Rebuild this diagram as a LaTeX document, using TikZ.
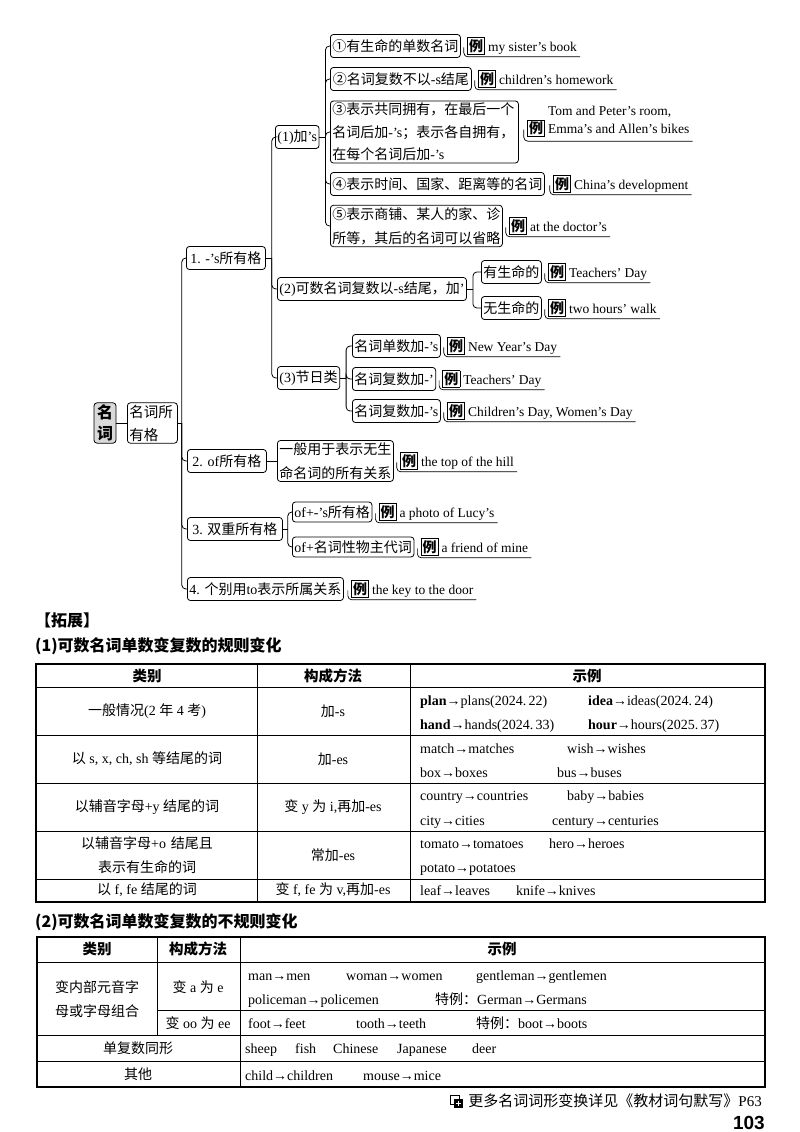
\documentclass[tikz,border=0pt]{standalone}
\usepackage{fontspec}
\setmainfont{Liberation Serif}
\newfontfamily\cjk{Noto Sans CJK SC}
\newfontfamily\pagefont{Liberation Sans}
\usetikzlibrary{positioning}

% Han characters and full-width punctuation switch to \cjk by themselves
\XeTeXinterchartokenstate=1
\newXeTeXintercharclass\hanclass
\newcount\hancnt
\def\sethan#1#2{\hancnt=#1\relax
  \loop\XeTeXcharclass\hancnt=\hanclass
    \ifnum\hancnt<#2\advance\hancnt by 1\repeat}
\sethan{"2460}{"24FF}
\sethan{"3000}{"303F}
\sethan{"4E00}{"9FFF}
\sethan{"FF00}{"FFEF}
\XeTeXcharclass"2018=0 \XeTeXcharclass"2019=0
\XeTeXcharclass"201C=0 \XeTeXcharclass"201D=0
\XeTeXinterchartoks 4095 \hanclass={\cjk}
\XeTeXinterchartoks \hanclass 4095={\rmfamily}
\XeTeXinterchartoks 0 \hanclass={\cjk}
\XeTeXinterchartoks \hanclass 0={\rmfamily}

\newcommand\li{{\fboxsep=1.2pt\fboxrule=0.8pt\fbox{\bfseries\fontsize{14}{16}\selectfont 例}}\hspace{3pt}}

\begin{document}
\begin{tikzpicture}[x=1pt,y=-1pt,
  box/.style={draw, rounded corners=3pt, line width=0.8pt, anchor=west,
    inner xsep=2pt, inner ysep=2pt, minimum height=23pt,
    font=\fontsize{14}{18}\selectfont},
  eg/.style={inner xsep=3pt, inner ysep=2pt, font=\fontsize{13.5}{18}\selectfont},
  link/.style={line width=0.8pt},
  fork/.style={link, rounded corners=4pt},
  uline/.style={line width=0.7pt, rounded corners=4pt},
  title/.style={anchor=west, inner sep=0pt, font=\cjk\fontsize{16}{18}\selectfont\bfseries},
  head/.style={font=\fontsize{14.5}{18}\selectfont\bfseries},
  cell/.style={inner sep=1pt, font=\fontsize{14}{24}\selectfont},
  word/.style={anchor=base west, yshift=-5pt, inner sep=0pt, font=\fontsize{14}{16}\selectfont},
  grid/.style={line width=0.8pt},
  frame/.style={line width=1.4pt}]
\useasboundingbox (0,0) rectangle (800,1132);

% root
\node[box, anchor=center, fill=gray!30, text width=18pt, align=center,
  font=\fontsize{16}{21}\selectfont\bfseries] (rt) at (105,423) {名\\词};
\node[box, text width=46pt, align=left, font=\fontsize{14.5}{23}\selectfont] (n0) at (127,423) {名词所\\有格};

% first level
\node[box, minimum width=79pt] (b1) at (186,258) {1. -’s所有格};
\node[box, minimum width=79pt] (b2) at (187,461) {2. of所有格};
\node[box, minimum width=95pt] (b3) at (187,529) {3. 双重所有格};
\node[box] (b4) at (187,589) {4. 个别用to表示所属关系};

% 1. -'s
\node[box] (c1) at (275,137) {(1)加’s};
\node[box] (c2) at (277,289) {(2)可数名词复数以-s结尾，加’};
\node[box] (c3) at (277,378) {(3)节日类};

\node[box] (d1) at (330,46) {①有生命的单数名词};
\node[box, minimum width=141pt] (d2) at (330,79) {②名词复数不以-s结尾};
\node[box, text width=184pt, align=left, font=\fontsize{14}{22.5}\selectfont] (d3) at (330,132)
  {③表示共同拥有，在最后一个\\名词后加-’s；表示各自拥有，\\在每个名词后加-’s};
\node[box] (d4) at (330,184) {④表示时间、国家、距离等的名词};
\node[box, text width=168pt, align=left, font=\fontsize{14}{24}\selectfont] (d5) at (330,226)
  {⑤表示商铺、某人的家、诊\\所等，其后的名词可以省略};

\node[box] (f1) at (481,272) {有生命的};
\node[box] (f2) at (481,308) {无生命的};

\node[box] (g1) at (352,346) {名词单数加-’s};
\node[box] (g2) at (352,379) {名词复数加-’};
\node[box] (g3) at (352,411) {名词复数加-’s};

% 2. / 3.
\node[box, text width=112pt, align=left, font=\fontsize{14}{24}\selectfont] (h1) at (277,461)
  {一般用于表示无生\\命名词的所有关系};
\node[box, minimum height=20pt] (k1) at (292,512) {of+-’s所有格};
\node[box, minimum height=20pt] (k2) at (292,547) {of+名词性物主代词};

% examples
\node[eg, right=3pt of d1] (e1) {\li my sister’s book};
\node[eg, right=3pt of d2] (e2) {\li children’s homework};
\node[eg, right=5pt of d3, yshift=11pt] (e3)
  {\li\begin{tabular}[b]{@{}l@{}}Tom and Peter’s room,\\Emma’s and Allen’s bikes\end{tabular}};
\node[eg, right=5pt of d4] (e4) {\li China’s development};
\node[eg, right=3pt of d5] (e5) {\li at the doctor’s};
\node[eg, right=3pt of f1] (e6) {\li Teachers’ Day};
\node[eg, right=3pt of f2] (e7) {\li two hours’ walk};
\node[eg, right=3pt of g1] (e8) {\li New Year’s Day};
\node[eg, right=3pt of g2] (e9) {\li Teachers’ Day};
\node[eg, right=3pt of g3] (e10) {\li Children’s Day, Women’s Day};
\node[eg, right=3pt of h1] (e11) {\li the top of the hill};
\node[eg, right=3pt of k1] (e12) {\li a photo of Lucy’s};
\node[eg, right=3pt of k2] (e13) {\li a friend of mine};
\node[eg, right=4pt of b4] (e14) {\li the key to the door};

% brackets
\draw[link] (rt.east) -- (n0.west);
\draw[link] (n0.east) -- ++(4,0) coordinate (s0);
\foreach \c in {b1,b2,b3,b4} \draw[fork] (s0) |- (\c.west);
\draw[link] (b1.east) -- ++(6,0) coordinate (s1);
\foreach \c in {c1,c2,c3} \draw[fork] (s1) |- (\c.west);
\draw[link] (c1.east) -- ++(6,0) coordinate (s2);
\foreach \c in {d1,d2,d3,d4,d5} \draw[fork] (s2) |- (\c.west);
\draw[link] (c2.east) -- ++(6,0) coordinate (s3);
\foreach \c in {f1,f2} \draw[fork] (s3) |- (\c.west);
\draw[link] (c3.east) -- ++(6,0) coordinate (s4);
\foreach \c in {g1,g2,g3} \draw[fork] (s4) |- (\c.west);
\draw[link] (b2.east) -- (h1.west);
\draw[link] (b3.east) -- ++(5,0) coordinate (s5);
\foreach \c in {k1,k2} \draw[fork] (s5) |- (\c.west);
\foreach \n in {e1,e2,e3,e4,e5,e6,e7,e8,e9,e10,e11,e12,e13,e14}
  \draw[uline] ([yshift=4pt]\n.base west) |- (\n.south east);

% extension
\node[title] (tz) at (35,620) {【拓展】};
\node[title] (t1) at (35,646) {(1)可数名词单数变复数的规则变化};

% table 1
\draw[frame] (36,664) rectangle (765,902);
\foreach \y in {687,735,783,831,879} \draw[grid] (36,\y) -- (765,\y);
\foreach \x in {257,410} \draw[grid] (\x,664) -- (\x,902);
\node[head] (ha1) at (147,676) {类别};
\node[head] (ha2) at (333,676) {构成方法};
\node[head] (ha3) at (587,676) {示例};
\foreach \y/\a/\b [count=\i] in {711/{一般情况(2 年 4 考)}/{加-s},
    759/{以 s, x, ch, sh 等结尾的词}/{加-es},
    807/{以辅音字母+y 结尾的词}/{变 y 为 i,再加-es},
    890/{以 f, fe 结尾的词}/{变 f, fe 为 v,再加-es}}
  {\node[cell] (ka\i) at (147,\y) {\a};
   \node[cell] (kb\i) at (333,\y) {\b};}
\node[cell, text width=200pt, align=center] (ka5) at (147,855) {以辅音字母+o 结尾且\\表示有生命的词};
\node[cell] (kb5) at (333,855) {常加-es};
\foreach \x/\y/\t [count=\i] in {420/700/{\textbf{plan}→plans(2024.\,22)},
    588/700/{\textbf{idea}→ideas(2024.\,24)},
    420/724/{\textbf{hand}→hands(2024.\,33)},
    588/724/{\textbf{hour}→hours(2025.\,37)},
    420/748/match→matches, 567/748/wish→wishes,
    420/772/box→boxes, 557/772/bus→buses,
    420/795/country→countries, 567/795/baby→babies,
    420/820/city→cities, 552/820/century→centuries,
    420/843/tomato→tomatoes, 549/843/hero→heroes,
    420/867/potato→potatoes,
    420/890/leaf→leaves, 516/890/knife→knives}
  \node[word] (wa\i) at (\x,\y) {\t};

% table 2
\node[title] (t2) at (35,922) {(2)可数名词单数变复数的不规则变化};
\draw[frame] (37,937) rectangle (765,1087);
\draw[grid] (37,962) -- (765,962);
\draw[grid] (157,1010) -- (765,1010);
\draw[grid] (37,1035) -- (765,1035);
\draw[grid] (37,1061) -- (765,1061);
\draw[grid] (157,937) -- (157,1035);
\draw[grid] (240,937) -- (240,1087);
\node[head] (hb1) at (97,949) {类别};
\node[head] (hb2) at (198,949) {构成方法};
\node[head] (hb3) at (502,949) {示例};
\node[cell, text width=100pt, align=center] (la1) at (97,999) {变内部元音字\\母或字母组合};
\node[cell] (lb1) at (198,987) {变 a 为 e};
\node[cell] (lb2) at (198,1023) {变 oo 为 ee};
\node[cell] (la2) at (138,1048) {单复数同形};
\node[cell] (la3) at (138,1074) {其他};
\foreach \x/\y/\t [count=\i] in {248/975/man→men, 346/975/woman→women,
    476/975/gentleman→gentlemen, 248/999/policeman→policemen,
    435/999/特例：German→Germans,
    248/1023/foot→feet, 356/1023/tooth→teeth, 476/1023/特例：boot→boots,
    245/1048/sheep, 295/1048/fish, 333/1048/Chinese, 397/1048/Japanese, 472/1048/deer,
    245/1075/child→children, 363/1075/mouse→mice}
  \node[word] (wb\i) at (\x,\y) {\t};

% footer
\node[anchor=east, inner sep=0pt, font=\fontsize{15}{17}\selectfont] (ft) at (762,1101)
  {更多名词词形变换详见《教材词句默写》P63};
\coordinate (ic) at ([xshift=-12pt]ft.west);
\draw[line width=0.8pt] ([shift={(-6,-6)}]ic) rectangle ([shift={(3,3)}]ic);
\fill ([shift={(-2,-2)}]ic) rectangle ([shift={(7,7)}]ic);
\draw[white, line width=1pt] ([shift={(2.5,0)}]ic) -- ([shift={(2.5,5)}]ic)
  ([shift={(0,2.5)}]ic) -- ([shift={(5,2.5)}]ic);
\node[anchor=east, inner sep=0pt, font=\pagefont\bfseries\fontsize{19}{20}\selectfont] (pg) at (765,1123) {103};
\end{tikzpicture}
\end{document}
